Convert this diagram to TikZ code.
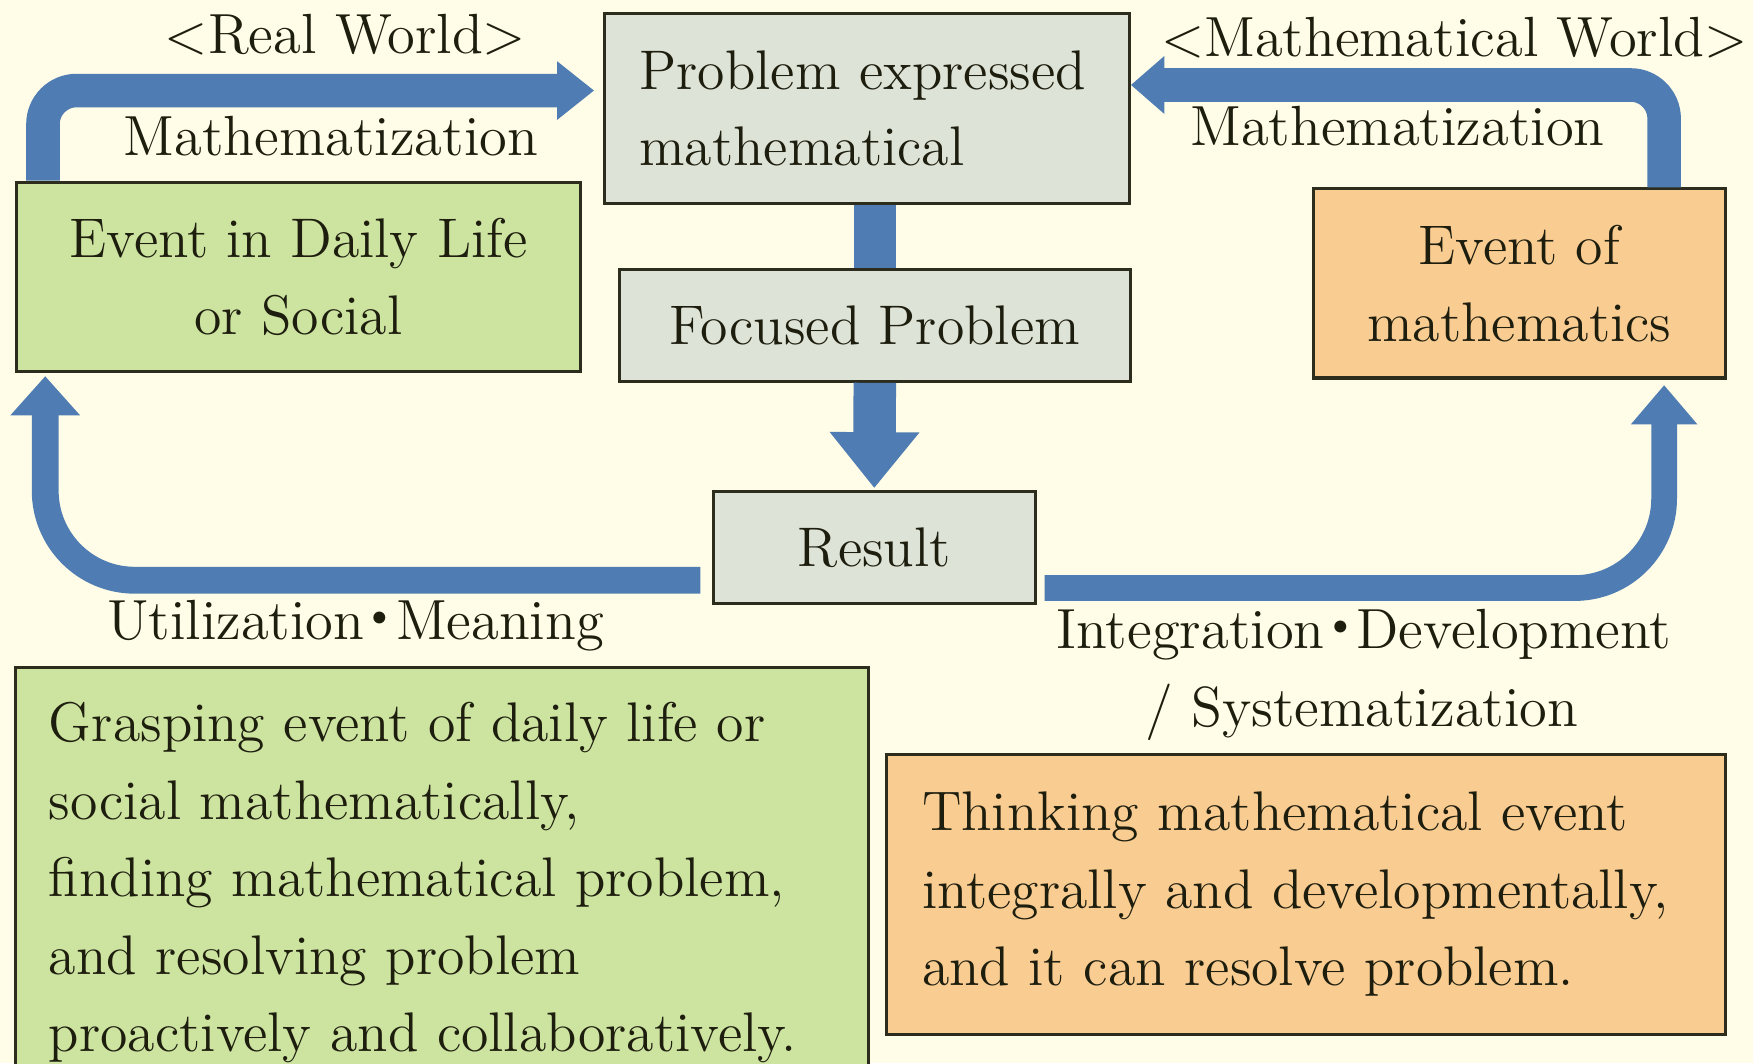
\documentclass[tikz,border=0pt]{standalone}
\usepackage{fontspec}
\newfontfamily\cjkf{Noto Sans CJK JP}
\usetikzlibrary{arrows.meta,calc}
\definecolor{bgc}{RGB}{255,253,231}
\definecolor{greybox}{RGB}{221,227,214}
\definecolor{greenbox}{RGB}{205,227,160}
\definecolor{orangebox}{RGB}{249,204,145}
\definecolor{arrowblue}{RGB}{79,124,178}
\definecolor{edgec}{RGB}{45,45,30}
\definecolor{txtc}{RGB}{30,30,15}
\newcommand{\jdot}{\kern-0.22em{\cjkf ・}\kern-0.22em}
\begin{document}
\begin{tikzpicture}[x=0.01cm,y=-0.01cm,
  box/.style={draw=edgec, line width=0.8pt, inner sep=0pt, text=txtc,
    font=\fontsize{14.2}{19.5}\selectfont},
  lbl/.style={text=txtc, inner sep=0pt, font=\fontsize{14.4}{19.5}\selectfont},
  bodytext/.style={box, font=\fontsize{14.2}{19.7}\selectfont, align=left},
  band/.style={draw=arrowblue, line width=#1},
  ]
\path[use as bounding box] (0,0) rectangle (1568,951);
\clip (0,0) rectangle (1568,951);
\fill[bgc] (0,0) rectangle (1568,951);

% boxes
\node[box, fill=greybox, minimum width=4.69cm, minimum height=1.70cm,
  text width=4.07cm, align=left] (pem) at (775.5,97)
  {Problem expressed\\mathematical};
\node[box, fill=greenbox, minimum width=5.04cm, minimum height=1.69cm,
  align=center] (dly) at (267,247.5) {Event in Daily Life\\or Social};
\node[box, fill=orangebox, minimum width=3.68cm, minimum height=1.69cm,
  align=center] (ofm) at (1359,253.5) {Event of\\mathematics};
\node[box, fill=greybox, minimum width=4.57cm, minimum height=1.00cm]
  (fp) at (782.5,291) {Focused Problem};
\node[box, fill=greybox, minimum width=2.88cm, minimum height=1.00cm]
  (res) at (782,490) {Result};
\node[bodytext, fill=greenbox, minimum width=7.63cm, minimum height=3.85cm,
  text width=7.03cm] (gbox) at (395.5,789.5)
  {Grasping event of daily life or\\social mathematically,\\finding mathematical problem,\\and resolving problem\\proactively and collaboratively.};
\node[bodytext, fill=orangebox, minimum width=7.50cm, minimum height=2.50cm,
  text width=6.86cm] (obox) at (1168,800)
  {Thinking mathematical event\\integrally and developmentally,\\and it can resolve problem.};

% labels
\node[lbl] (rw) at (309,31) {$<$Real World$>$};
\node[lbl] (mw) at (1301,34) {$<$Mathematical World$>$};
\node[lbl] (m1) at (296,122) {Mathematization};
\node[lbl] (m2) at (1250,113) {Mathematization};
\node[lbl] (um) at (318,560) {Utilization\jdot Meaning};
\node[lbl] (idv) at (1220,568) {Integration\jdot Development};
\node[lbl] (sy) at (1218,637) {/ Systematization};

% connectors
\draw[band=0.30cm, -{Triangle[width=0.50cm,length=0.33cm]}, rounded corners=0.3cm]
  ($(dly.north west)+(25,0)$) |- ($(pem.west)+(-8,-16)$);
\draw[band=0.30cm, -{Triangle[width=0.50cm,length=0.30cm]}, rounded corners=0.3cm]
  ($(ofm.north east)+(-56,0)$) |- ($(pem.east)+(0,-21)$);
\draw[band=0.38cm] (pem.south -| fp.north) -- (fp.north);
\draw[band=0.38cm, -{Triangle[width=0.77cm,length=0.50cm]}]
  (fp.south) -- ($(res.north)+(0,-2)$);
\draw[band=0.24cm, -{Triangle[width=0.60cm,length=0.35cm]}, rounded corners=0.8cm]
  ($(res.west)+(-10,29)$) -| ($(dly.south west)+(27,3)$);
\draw[band=0.23cm, -{Triangle[width=0.57cm,length=0.35cm]}, rounded corners=0.8cm]
  ($(res.east)+(7,36)$) -| ($(ofm.south east)+(-56,5)$);
\end{tikzpicture}
\end{document}
